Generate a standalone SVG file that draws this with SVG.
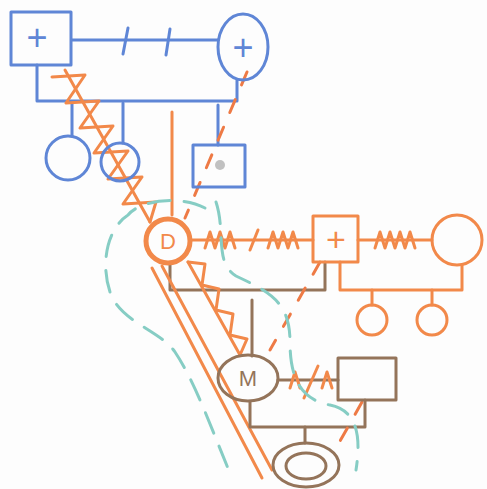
<svg xmlns="http://www.w3.org/2000/svg" width="487" height="489" viewBox="0 0 487 489">
<style>
.b{fill:none;stroke:#5f86d6;stroke-width:3;stroke-linecap:round;stroke-linejoin:round}
.o{fill:none;stroke:#f2894a;stroke-width:3;stroke-linecap:round;stroke-linejoin:round}
.od{fill:none;stroke:#ee7a45;stroke-width:3;stroke-dasharray:14 16;stroke-linecap:round}
.br{fill:none;stroke:#94745a;stroke-width:3;stroke-linecap:round;stroke-linejoin:round}
.t{fill:none;stroke:#86cdc4;stroke-width:3;stroke-dasharray:22 14;stroke-linecap:round}
.tb{font-family:"Liberation Sans",sans-serif;font-size:36px;fill:#5f86d6;text-anchor:middle}
.to{font-family:"Liberation Sans",sans-serif;font-size:22px;fill:#f2894a;text-anchor:middle}
.tp{font-family:"Liberation Sans",sans-serif;font-size:34px;fill:#f2894a;text-anchor:middle}
.tr{font-family:"Liberation Sans",sans-serif;font-size:22px;fill:#94745a;text-anchor:middle}
</style>
<rect width="487" height="489" fill="#fdfdfd"/>
<g id="connectors">
  <path class="b" d="M72,40 H218"/>
  <path class="b" d="M128,28 L123,54 M170,29 L166,55"/>
  <path class="b" d="M37,65 V101 H237 V80"/>
  <path class="b" d="M72,103 V136 M123,103 V143 M218,105 V145"/>
  <path class="o" d="M172,112 V215"/>
  <path class="od" d="M247,72 L185,218"/>
  <path class="o" d="M65,70 L150,222"/>
  <path class="o" d="M52,77 L85,75 L66,103 L99,101 L80,128 L113,126 L94,153 L128,151 L108,179 L142,177 L123,204 L156,202 L150,222"/>
  <path class="o" d="M191,240 H313"/>
  <path class="o" d="M205,248 L210,232 L215,248 L220,232 L225,248 L230,232 L235,248 M250,250 L258,230 M268,248 L273,232 L278,248 L283,232 L288,248 L293,232 L298,248"/>
  <path class="o" d="M358,240 H432"/>
  <path class="o" d="M375,248 L380,232 L385,248 L390,232 L395,248 L400,232 L405,248 L410,232 L415,248"/>
  <path class="o" d="M340,262 V290 H462 V265"/>
  <path class="o" d="M372,290 V305 M432,290 V305"/>
  <path class="br" d="M170,264 V290 H325 V262"/>
  <path class="br" d="M252,300 V356"/>
  <path class="od" d="M320,262 L270,350"/>
  <path class="o" d="M188,262 L240,355"/>
  <path class="o" d="M188,262 L205,264 L202,285 L219,289 L216,310 L233,314 L230,335 L247,339 L240,355"/>
  <path class="o" d="M152,268 L262,478 M162,266 L272,470"/>
  <path class="br" d="M278,380 H338"/>
  <path class="o" d="M290,388 L295,372 L300,388 M318,366 L304,398 M322,388 L327,372 L332,388"/>
  <path class="br" d="M250,402 V427 H365 V400"/>
  <path class="br" d="M305,427 V443"/>
  <path class="od" d="M362,402 L335,450"/>
  <path class="t" d="M205,208 C180,195 140,200 128,215 C108,228 100,262 110,292 C120,322 160,330 175,352 C195,382 210,425 232,478"/>
  <path class="t" d="M216,202 C226,232 214,262 236,276 C270,292 290,302 290,342 C290,380 302,400 330,405 C355,410 362,432 356,470"/>
</g>
<g id="blue-father"><rect class="b" x="11" y="12" width="60" height="53"/><text class="tb" x="37" y="50">+</text></g>
<g id="blue-mother"><ellipse class="b" cx="243" cy="47" rx="25" ry="33"/><text class="tb" x="243" y="60">+</text></g>
<g id="blue-daughter1"><circle class="b" cx="68" cy="158" r="22"/></g>
<g id="blue-daughter2"><circle class="b" cx="120" cy="162" r="19"/></g>
<g id="blue-son"><rect class="b" x="193" y="145" width="52" height="42"/><circle cx="220" cy="165" r="5" fill="#999" opacity="0.6"/></g>
<g id="D"><circle cx="168" cy="241" r="22" fill="none" stroke="#f2894a" stroke-width="5"/><text class="to" x="168" y="249">D</text></g>
<g id="orange-father"><rect class="o" x="313" y="216" width="45" height="46"/><text class="tp" x="336" y="251">+</text></g>
<g id="orange-mother"><circle class="o" cx="457" cy="240" r="25"/></g>
<g id="orange-child1"><circle class="o" cx="372" cy="320" r="15"/></g>
<g id="orange-child2"><circle class="o" cx="432" cy="320" r="15"/></g>
<g id="M"><ellipse class="br" cx="248" cy="378" rx="30" ry="23"/><text class="tr" x="248" y="386">M</text></g>
<g id="partner"><rect class="br" x="338" y="358" width="58" height="42"/></g>
<g id="child"><ellipse class="br" cx="306" cy="465" rx="33" ry="22"/><ellipse class="br" cx="306" cy="466" rx="20" ry="13"/></g>
</svg>
